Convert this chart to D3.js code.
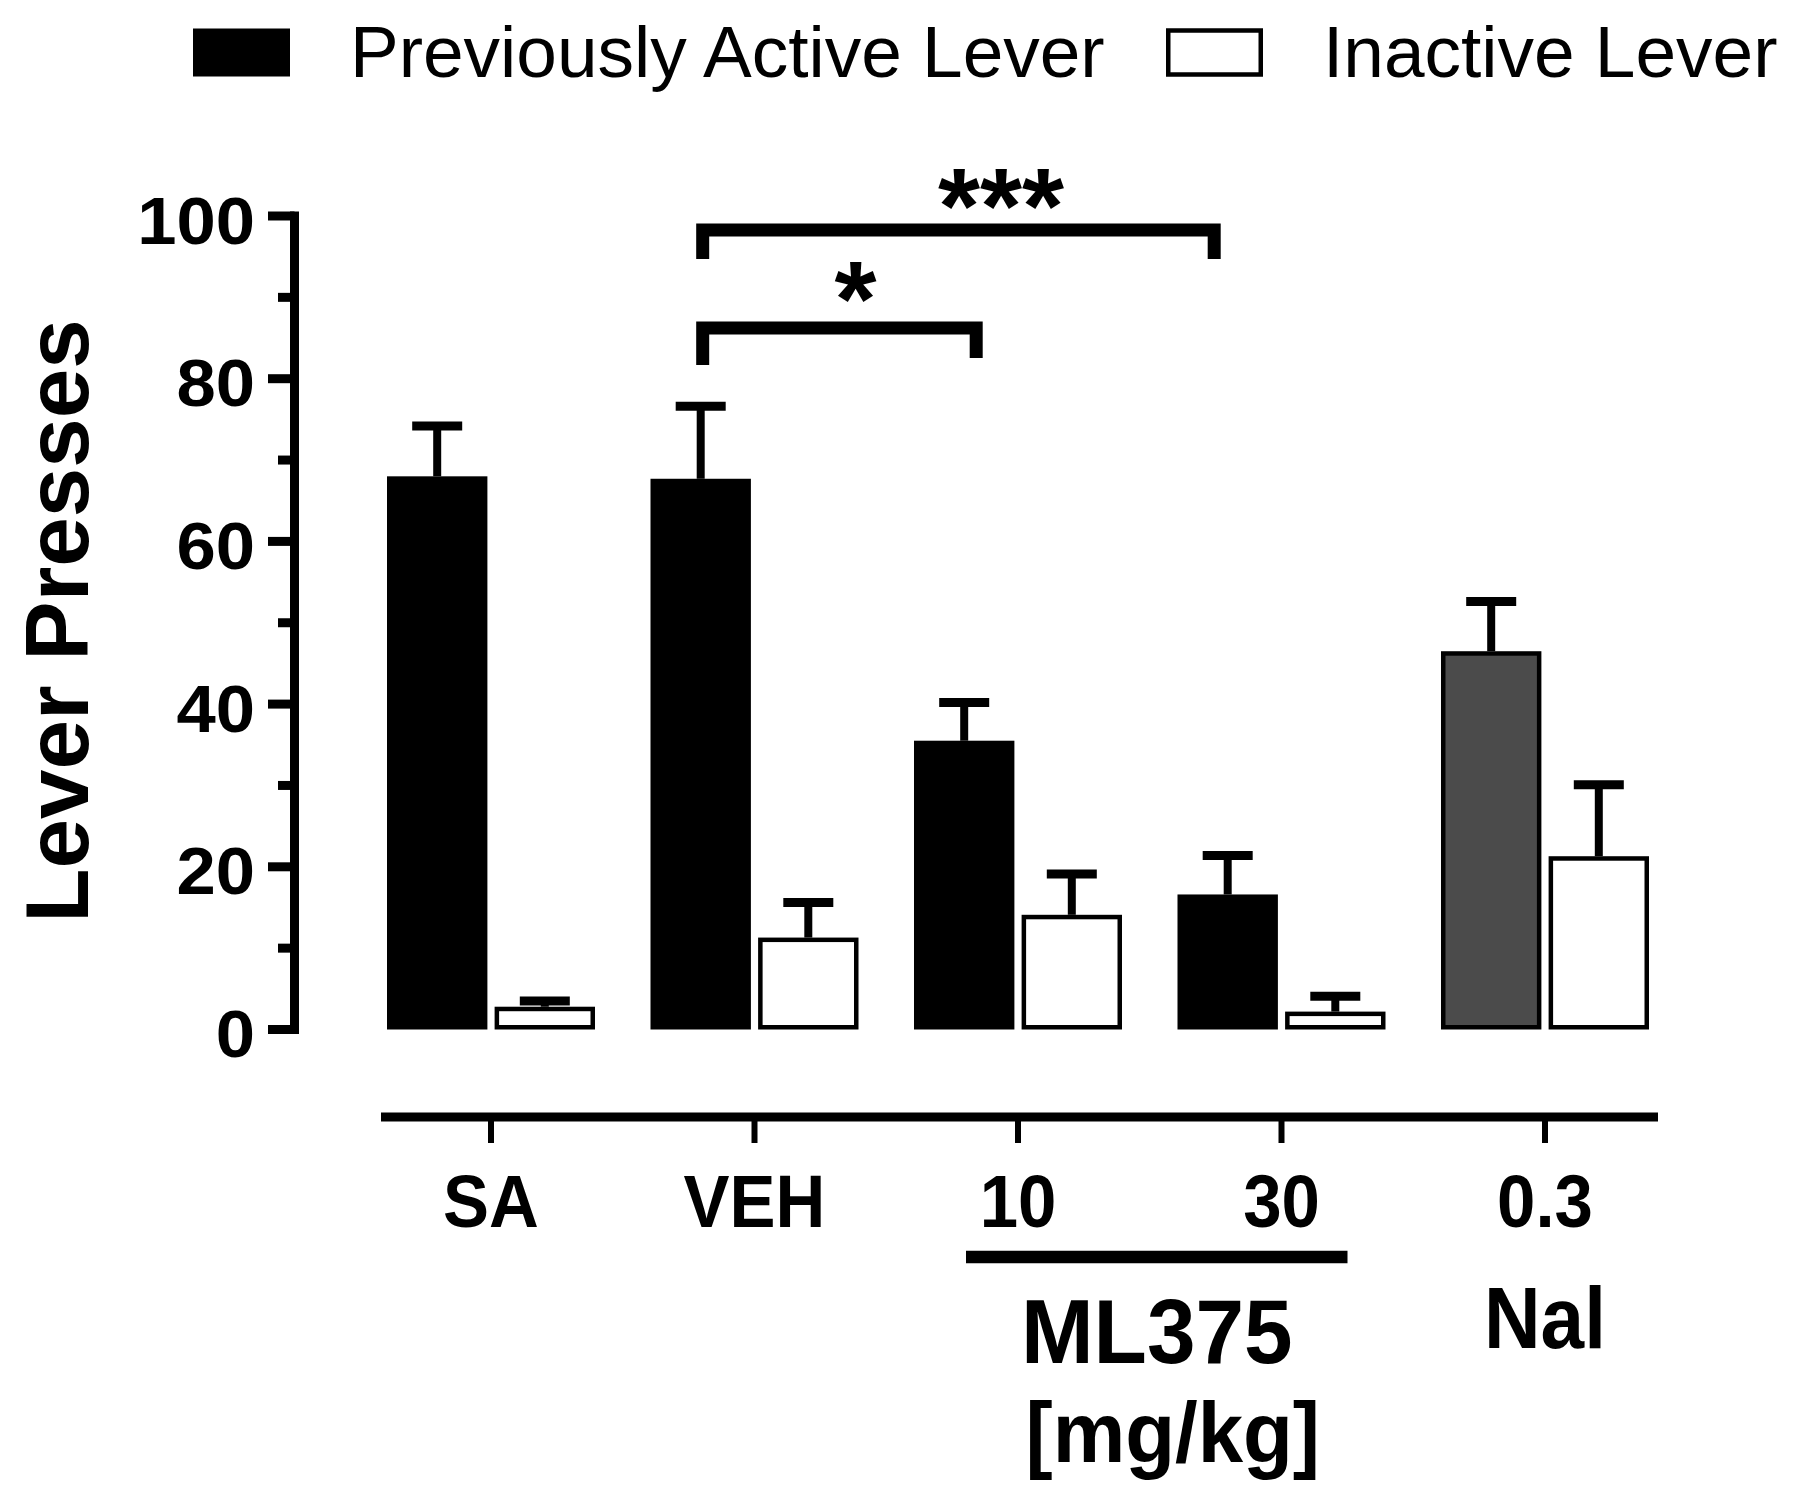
<!DOCTYPE html>
<html>
<head>
<meta charset="utf-8">
<script src="https://cdn.jsdelivr.net/npm/d3@7"></script>
<style>
  html, body { margin: 0; padding: 0; background: #fff; }
  svg { display: block; }
  text { font-family: "Liberation Sans", Arial, sans-serif; fill: #000; }
</style>
</head>
<body>
<script>
// ---- data ----
const groups = ["SA", "VEH", "10", "30", "0.3"];
const activeMean = [68.0, 67.7, 35.5, 16.6, 46.5];
const activeSem = [6.2, 8.9, 4.7, 4.8, 6.1];
const inactiveMean = [2.8, 11.3, 14.1, 2.2, 21.3];
const inactiveSem = [0.7, 4.3, 5.0, 1.9, 8.8];
const activeFill = ["#000000", "#000000", "#000000", "#000000", "#4b4b4b"];
const yMajorTicks = [0, 20, 40, 60, 80, 100];
const yMinorTicks = [10, 30, 50, 70, 90];
const legendLabels = ["Previously Active Lever", "Inactive Lever"];
const series = ["active", "inactive"];

const W = 1800, H = 1504;
const svg = d3.select("body").append("svg").attr("width", W).attr("height", H);

// ---- scales ----
const y = d3.scaleLinear().domain([0, 100]).range([1029.5, 216]);
const xg = d3.scaleBand().domain(groups).range([387, 1649]).paddingInner(0.2106).paddingOuter(0);
const xs = d3.scaleBand().domain(series).range([0, xg.bandwidth()]).paddingInner(0.067);
const bw = xs.bandwidth();

// ---- legend ----
const leg = svg.append("g");
leg.append("rect").attr("x", 193).attr("y", 28.5).attr("width", 97).attr("height", 48).attr("fill", "#000");
leg.append("text").attr("x", 350).attr("y", 77).attr("font-size", 73).text(legendLabels[0]);
leg.append("rect").attr("x", 1168.25).attr("y", 30.5).attr("width", 92.5).attr("height", 44)
  .attr("fill", "#fff").attr("stroke", "#000").attr("stroke-width", 4.5);
leg.append("text").attr("x", 1323).attr("y", 77).attr("font-size", 73).text(legendLabels[1]);

// ---- y axis ----
const ya = svg.append("g");
ya.append("line").attr("x1", 294.5).attr("x2", 294.5).attr("y1", y(100) - 4.5).attr("y2", y(0) + 4.5)
  .attr("stroke", "#000").attr("stroke-width", 9);
ya.selectAll("line.maj").data(yMajorTicks).join("line").attr("class", "maj")
  .attr("x1", 268).attr("x2", 294.5).attr("y1", d => y(d)).attr("y2", d => y(d))
  .attr("stroke", "#000").attr("stroke-width", 9);
ya.selectAll("line.min").data(yMinorTicks).join("line").attr("class", "min")
  .attr("x1", 278).attr("x2", 294.5).attr("y1", d => y(d)).attr("y2", d => y(d))
  .attr("stroke", "#000").attr("stroke-width", 9);
ya.selectAll("text").data(yMajorTicks).join("text")
  .attr("text-anchor", "end").attr("font-weight", "bold").attr("font-size", 66)
  .attr("transform", d => `translate(255,${y(d) + 27.5}) scale(1.07,1)`)
  .text(d => d);

svg.append("text").attr("transform", "translate(88,621) rotate(-90)")
  .attr("text-anchor", "middle").attr("font-weight", "bold").attr("font-size", 89)
  .text("Lever Presses");

// ---- bars ----
const bars = svg.append("g");
const inset = 2.25;
groups.forEach((g, i) => {
  const xa = xg(g) + xs("active");
  const xi = xg(g) + xs("inactive");
  // error bars (drawn first, bars on top)
  [[xa, activeMean[i], activeSem[i]], [xi, inactiveMean[i], inactiveSem[i]]].forEach(([x0, m, s]) => {
    const cx = x0 + bw / 2;
    bars.append("line").attr("x1", cx).attr("x2", cx).attr("y1", y(m)).attr("y2", y(m + s))
      .attr("stroke", "#000").attr("stroke-width", 8);
    bars.append("line").attr("x1", cx - 25).attr("x2", cx + 25).attr("y1", y(m + s)).attr("y2", y(m + s))
      .attr("stroke", "#000").attr("stroke-width", 9);
  });
  // active
  if (activeFill[i] === "#000000") {
    bars.append("rect").attr("x", xa).attr("y", y(activeMean[i])).attr("width", bw)
      .attr("height", y(0) - y(activeMean[i])).attr("fill", "#000");
  } else {
    bars.append("rect").attr("x", xa + inset).attr("y", y(activeMean[i]) + inset).attr("width", bw - 2 * inset)
      .attr("height", y(0) - y(activeMean[i]) - 2 * inset).attr("fill", activeFill[i])
      .attr("stroke", "#000").attr("stroke-width", 4.5);
  }
  // inactive
  bars.append("rect").attr("x", xi + inset).attr("y", y(inactiveMean[i]) + inset).attr("width", bw - 2 * inset)
    .attr("height", y(0) - y(inactiveMean[i]) - 2 * inset).attr("fill", "#fff")
    .attr("stroke", "#000").attr("stroke-width", 4.5);
});

// ---- x axis (detached) ----
const xAxisY = 1117;
const tickX = g => xg(g) + xg.bandwidth() / 2;
const xa = svg.append("g");
xa.append("line").attr("x1", 381).attr("x2", 1658).attr("y1", xAxisY).attr("y2", xAxisY)
  .attr("stroke", "#000").attr("stroke-width", 9);
xa.selectAll("line.t").data(groups).join("line").attr("class", "t")
  .attr("x1", tickX).attr("x2", tickX).attr("y1", xAxisY).attr("y2", xAxisY + 26)
  .attr("stroke", "#000").attr("stroke-width", 6);
xa.selectAll("text.t").data(groups).join("text").attr("class", "t")
  .attr("text-anchor", "middle").attr("font-weight", "bold").attr("font-size", 75)
  .attr("transform", g => `translate(${tickX(g)},1227) scale(0.92,1)`)
  .text(g => g);

// ML375 group underline + labels
xa.append("line").attr("x1", tickX("10") - 52).attr("x2", tickX("30") + 66)
  .attr("y1", 1257).attr("y2", 1257).attr("stroke", "#000").attr("stroke-width", 12.5);
xa.append("text").attr("text-anchor", "middle").attr("font-weight", "bold").attr("font-size", 90)
  .attr("transform", `translate(${(tickX("10") + tickX("30")) / 2 + 7},1363) scale(0.97,1)`).text("ML375");
xa.append("text").attr("text-anchor", "middle").attr("font-weight", "bold").attr("font-size", 85)
  .attr("transform", `translate(${(tickX("10") + tickX("30")) / 2 + 23},1462) scale(0.96,1)`).text("[mg/kg]");
xa.append("text").attr("text-anchor", "middle").attr("font-weight", "bold").attr("font-size", 88)
  .attr("transform", `translate(${tickX("0.3")},1348) scale(0.89,1)`).text("Nal");

// ---- significance brackets ----
const sig = svg.append("g").attr("fill", "none").attr("stroke", "#000").attr("stroke-width", 13)
  .attr("stroke-linejoin", "miter").attr("stroke-linecap", "butt");
const ctr = (g, s) => xg(g) + xs(s) + bw / 2;
const bL = ctr("VEH", "active") + 2;
// ***
sig.append("path").attr("d", `M${bL},259 L${bL},230 L${ctr("30", "active") - 13.5},230 L${ctr("30", "active") - 13.5},259`);
// *
sig.append("path").attr("d", `M${bL},365 L${bL},328 L${ctr("10", "active") + 12},328 L${ctr("10", "active") + 12},358`);

svg.append("text").attr("x", 1001).attr("y", 243).attr("text-anchor", "middle")
  .attr("font-weight", "bold").attr("font-size", 108).text("***");
svg.append("text").attr("x", 855.5).attr("y", 336).attr("text-anchor", "middle")
  .attr("font-weight", "bold").attr("font-size", 108).text("*");
</script>
</body>
</html>
